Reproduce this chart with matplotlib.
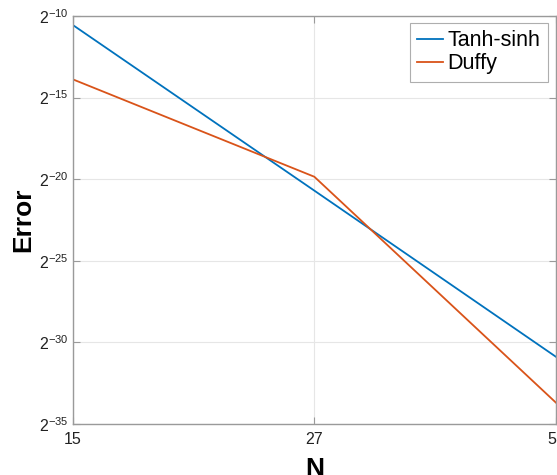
import matplotlib
matplotlib.use("Agg")
import matplotlib.pyplot as plt
import numpy as np

plt.rcParams['font.family'] = ['Liberation Sans', 'DejaVu Sans']
plt.rcParams['mathtext.fontset'] = 'custom'
plt.rcParams['mathtext.rm'] = 'Liberation Sans'
plt.rcParams['mathtext.it'] = 'Liberation Sans'

n_labels = ['15', '27', '51']
tanh_sinh_log2 = [-10.55, -20.70, -30.88]
duffy_log2 = [-13.88, -19.85, -33.69]
ytick_exps = [-35, -30, -25, -20, -15, -10]

x = np.arange(1, len(n_labels) + 1)
tanh_sinh = 2.0 ** np.array(tanh_sinh_log2)
duffy = 2.0 ** np.array(duffy_log2)

fig = plt.figure(figsize=(5.57, 4.75), dpi=100)
ax = fig.add_axes([0.1307, 0.1074, 0.8673, 0.8589])

ax.plot(x, tanh_sinh, color='#0072BD', lw=1.3, label='Tanh-sinh')
ax.plot(x, duffy, color='#D95319', lw=1.3, label='Duffy')

ax.set_yscale('log', base=2)
ax.set_xlim(1, 3)
ax.set_ylim(2.0 ** -35, 2.0 ** -10)
ax.set_xticks(x)
ax.set_xticklabels(n_labels, fontsize=11.5)
ax.set_yticks([2.0 ** e for e in ytick_exps])
ax.set_yticklabels([r'$2^{%d}$' % e for e in ytick_exps], fontsize=11.5)
ax.minorticks_off()

ax.grid(True, color='#e6e6e6', lw=0.8)
ax.set_axisbelow(True)
for s in ax.spines.values():
    s.set_color('#9a9a9a')
    s.set_linewidth(1.0)
ax.tick_params(direction='in', length=5, color='#9a9a9a',
               top=True, right=True, labelcolor='#222222')
ax.tick_params(axis='x', pad=6)
ax.tick_params(axis='y', pad=3)

ax.set_xlabel('N', fontsize=19, fontweight='bold')
ax.set_ylabel('Error', fontsize=19, fontweight='bold')
ax.xaxis.set_label_coords(0.5, -0.08)
ax.yaxis.set_label_coords(-0.078, 0.5)

leg = ax.legend(loc='upper right', bbox_to_anchor=(0.9834, 0.9836),
                fontsize=15.5, frameon=True, fancybox=False,
                edgecolor='#9a9a9a', handlelength=1.2, handletextpad=0.2,
                borderpad=0.35, labelspacing=0.1, borderaxespad=0.0)
leg.get_frame().set_linewidth(0.8)

fig.savefig('out.png', dpi=100)
